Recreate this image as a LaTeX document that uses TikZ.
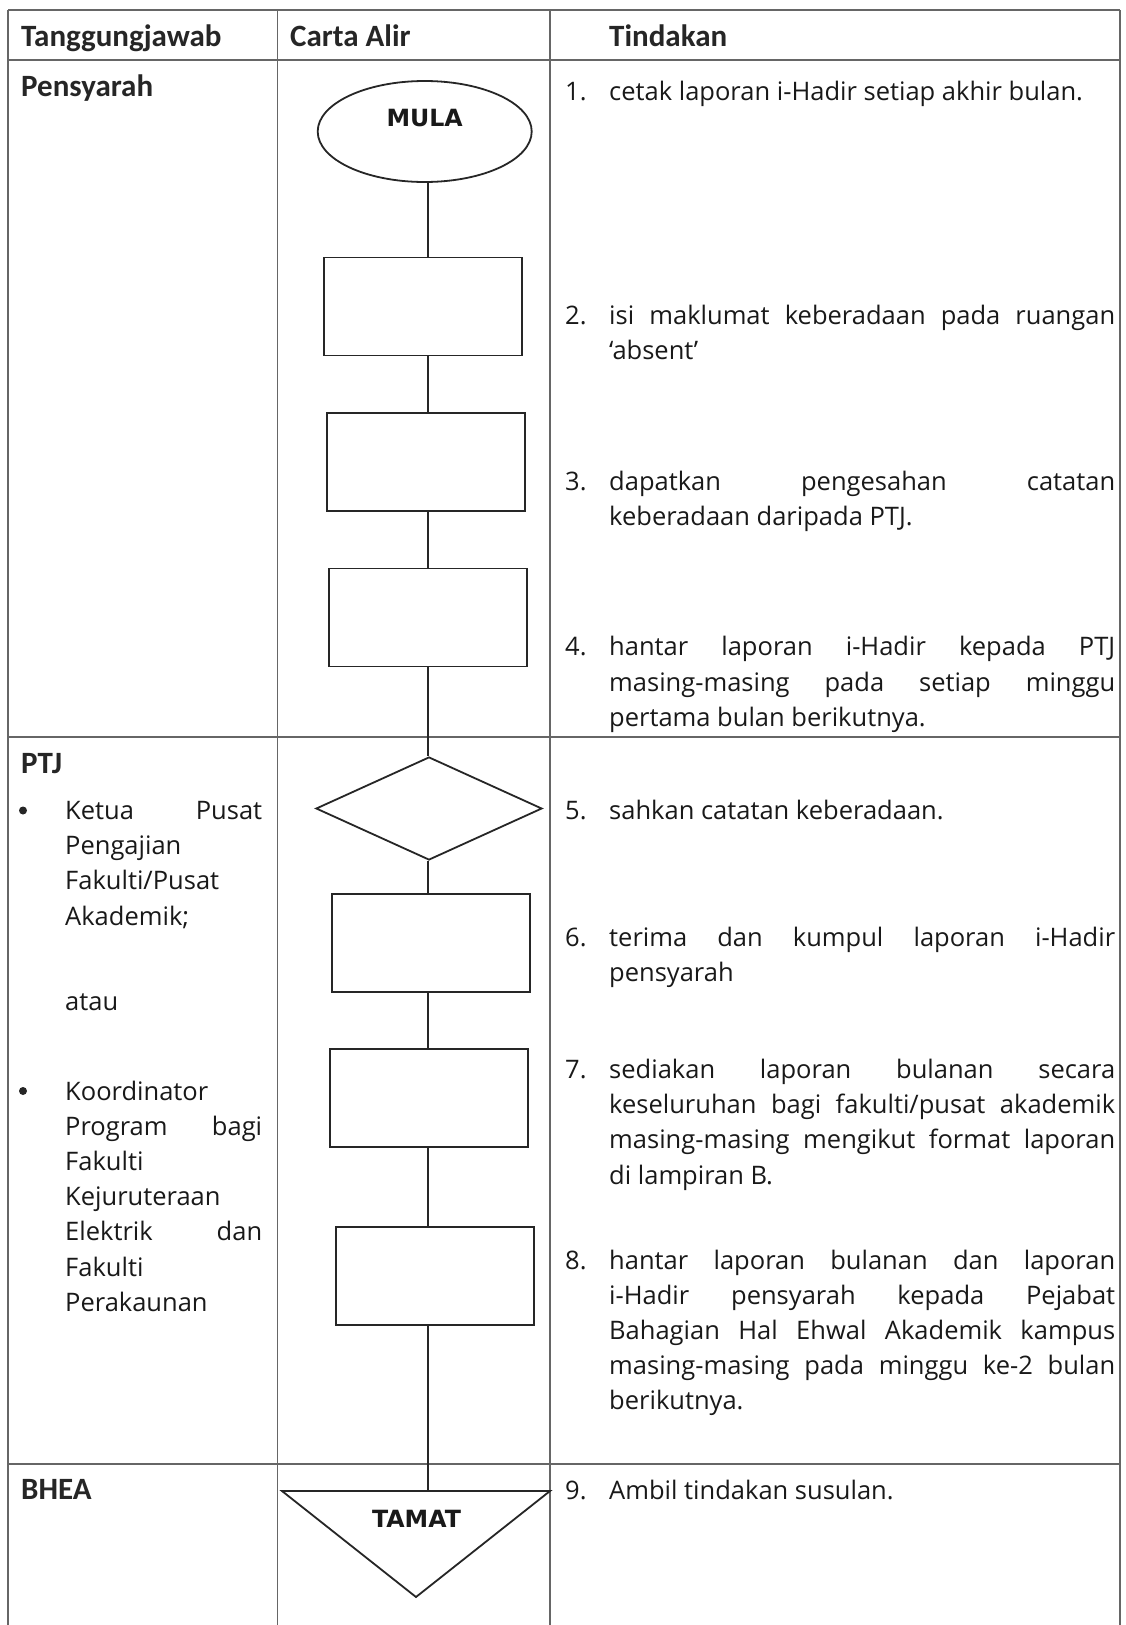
\documentclass[tikz,border=0pt]{standalone}
\usepackage{fontspec}
\setmainfont{Open Sans}
\newfontfamily\headfont{Carlito}
\newfontfamily\shapefont{DejaVu Sans}
\usetikzlibrary{shapes.geometric}
\hyphenpenalty=10000
\exhyphenpenalty=10000
\tolerance=10000

\begin{document}
\begin{tikzpicture}[x=1pt,y=-1pt,
	grid/.style={draw=black!60,line width=1.2pt},
	flow/.style={draw=black!85,line width=1.8pt},
	spine/.style={draw=black!85,line width=2.6pt},
	box/.style={flow,rectangle,minimum width=198pt,minimum height=98pt,inner sep=0pt},
	head/.style={anchor=base west,inner sep=0pt,text=black!85,font=\headfont\bfseries\fontsize{31}{35.2}\selectfont},
	num/.style={anchor=base west,inner sep=0pt,text=black!90,font=\fontsize{25.5}{35.2}\selectfont},
	act/.style={num,text width=506pt,align=justify},
	role/.style={num,text width=197pt,align=justify},
	dot/.style={circle,fill=black!85,inner sep=0pt,minimum size=8pt},
	tag/.style={anchor=base,inner sep=0pt,text=black!90,font=\shapefont\bfseries\fontsize{23.7}{26}\selectfont}]
\useasboundingbox[fill=white] (0,0) rectangle (1125,1625);

% table
\draw[grid] (8,10) -- (1120,10);
\draw[grid] (8,60) -- (1120,60);
\draw[grid] (8,737) -- (1120,737);
\draw[grid] (8,1464) -- (1120,1464);
\draw[grid] (8,10) -- (8,1625);
\draw[grid] (277.5,10) -- (277.5,1625);
\draw[grid] (550,10) -- (550,1625);
\draw[grid] (1120,10) -- (1120,1625);

% column 1 and headers
\path (21,46) node[head] (h-who) {Tanggungjawab}
		(290,46) node[head] (h-flow) {Carta Alir}
		(609,46) node[head] (h-act) {Tindakan}
		(21,96) node[head] (pensyarah) {Pensyarah}
		(21,773) node[head] (ptj) {PTJ}
		(21,1499) node[head] (bhea) {BHEA}
		(23,810.5) node[dot] (dot1) {}
		(65,819.5) node[role] (ketua) {Ketua Pusat\linebreak Pengajian\newline Fakulti/Pusat\newline Akademik;}
		(65,1010) node[num] (atau) {atau}
		(23,1091) node[dot] (dot2) {}
		(65,1100) node[role] (koord) {Koordinator\newline Program bagi\linebreak Fakulti\newline Kejuruteraan\newline Elektrik dan\linebreak Fakulti\newline Perakaunan};

% column 3
\path (565,100.5) node[num] (n1) {1.}
		(609,100.5) node[act] (t1) {cetak laporan i-Hadir setiap akhir bulan.}
		(565,324) node[num] (n2) {2.}
		(609,324) node[act] (t2) {isi maklumat keberadaan pada ruangan\linebreak ‘absent’}
		(565,490) node[num] (n3) {3.}
		(609,490) node[act] (t3) {dapatkan pengesahan catatan\linebreak keberadaan daripada PTJ.}
		(565,655.8) node[num] (n4) {4.}
		(609,655.8) node[act] (t4) {hantar laporan i-Hadir kepada PTJ\linebreak masing-masing pada setiap minggu\linebreak pertama bulan berikutnya.}
		(565,819.5) node[num] (n5) {5.}
		(609,819.5) node[act] (t5) {sahkan catatan keberadaan.}
		(565,946) node[num] (n6) {6.}
		(609,946) node[act] (t6) {terima dan kumpul laporan i-Hadir\linebreak pensyarah}
		(565,1078.5) node[num] (n7) {7.}
		(609,1078.5) node[act] (t7) {sediakan laporan bulanan secara\linebreak keseluruhan bagi fakulti/pusat akademik\linebreak masing-masing mengikut format laporan\linebreak di lampiran B.}
		(565,1269) node[num] (n8) {8.}
		(609,1269) node[act] (t8) {hantar laporan bulanan dan laporan\linebreak i-Hadir pensyarah kepada Pejabat\linebreak Bahagian Hal Ehwal Akademik kampus\linebreak masing-masing pada minggu ke-2 bulan\linebreak berikutnya.}
		(565,1499) node[num] (n9) {9.}
		(609,1499) node[act] (t9) {Ambil tindakan susulan.};

% flow chart
\coordinate (axis) at (428,0);
\path (424.7,131.5) node[flow,ellipse,minimum width=214pt,minimum height=101pt,inner sep=0pt] (mula) {}
		(424.7,126) node[tag] (mula-txt) {MULA}
		(423,306.5) node[box] (b1) {}
		(426,462) node[box] (b2) {}
		(428,617.5) node[box] (b3) {}
		(429,808.5) node[flow,diamond,minimum width=226pt,minimum height=103pt,inner sep=0pt] (sah) {}
		(431,943) node[box] (b4) {}
		(429,1098) node[box] (b5) {}
		(435,1276) node[box] (b6) {}
		(416.5,1527) node[tag] (tamat-txt) {TAMAT};
\coordinate (tamat-l) at (282,1491);
\coordinate (tamat-r) at (550,1491);
\coordinate (tamat-b) at (416,1597);
\coordinate (tamat-top) at (428,1491);
\draw[flow] (tamat-l) -- (tamat-r) -- (tamat-b) -- cycle;

\draw[spine] (mula.south -| axis) -- (b1.north -| axis);
\draw[spine] (b1.south -| axis) -- (b2.north -| axis);
\draw[spine] (b2.south -| axis) -- (b3.north -| axis);
\draw[spine] (b3.south -| axis) -- (sah.north -| axis);
\draw[spine] (sah.south -| axis) -- (b4.north -| axis);
\draw[spine] (b4.south -| axis) -- (b5.north -| axis);
\draw[spine] (b5.south -| axis) -- (b6.north -| axis);
\draw[spine] (b6.south -| axis) -- (tamat-top);
\end{tikzpicture}
\end{document}
